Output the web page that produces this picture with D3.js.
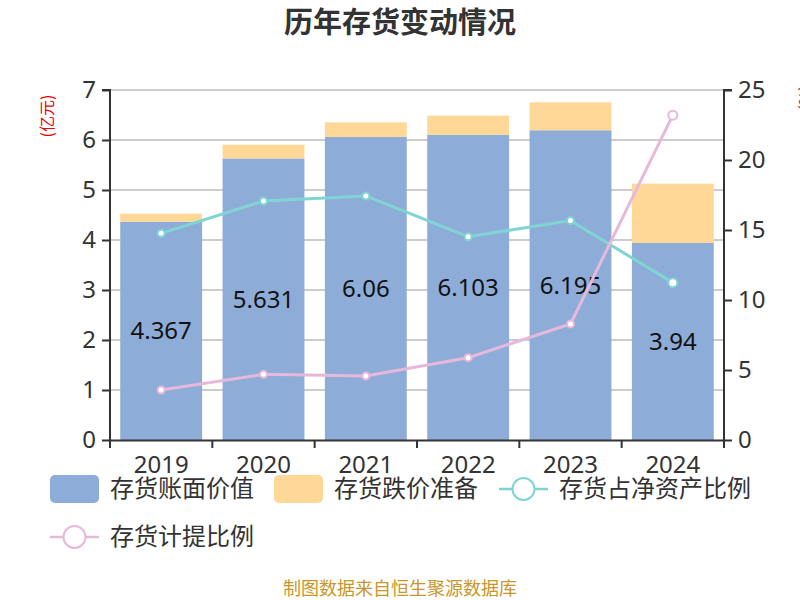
<!DOCTYPE html>
<html>
<head>
<meta charset="utf-8">
<script src="https://cdn.jsdelivr.net/npm/d3@7"></script>
<style>
  body { margin: 0; background: #fff; }
  svg { font-family: "Noto Sans CJK SC", "Noto Sans", sans-serif; }
</style>
</head>
<body>
<svg width="800" height="600"></svg>
<script>
// chart data
var years = ['2019', '2020', '2021', '2022', '2023', '2024'];
var bookValue = [4.367, 5.631, 6.06, 6.103, 6.195, 3.94];      // 存货账面价值 (亿元)
var reserve = [0.16, 0.275, 0.293, 0.384, 0.558, 1.187];        // 存货跌价准备 (亿元)
var netAssetRatio = [14.76, 17.07, 17.43, 14.52, 15.67, 11.24]; // 存货占净资产比例 (%)
var provisionRatio = [3.57, 4.69, 4.57, 5.88, 8.29, 23.2];      // 存货计提比例 (%)
var leftTicks = [0, 1, 2, 3, 4, 5, 6, 7];
var rightTicks = [0, 5, 10, 15, 20, 25];

var svg = d3.select('svg');
var blue = '#8eacd8', orange = '#ffd898', cyan = '#80d4d4', pink = '#e6b9da';

var padding = { t: 90, r: 76, b: 160, l: 110 };
var chartWidth = 800 - padding.l - padding.r;
var chartHeight = 600 - padding.t - padding.b;

var xScale = d3.scaleBand().domain(years).range([0, chartWidth]).paddingInner(0.2).paddingOuter(0.1);
var yLeft = d3.scaleLinear().domain([0, 7]).range([chartHeight, 0]);
var yRight = d3.scaleLinear().domain([0, 25]).range([chartHeight, 0]);

// title
svg.append('text')
    .attr('x', 400).attr('y', 33)
    .attr('text-anchor', 'middle')
    .style('font-size', '29px').style('font-weight', 'bold')
    .attr('fill', '#333')
    .text('历年存货变动情况');

var chartG = svg.append('g')
    .attr('transform', 'translate(' + padding.l + ',' + padding.t + ')');

// gridlines
chartG.selectAll('.grid')
    .data(leftTicks.slice(1))
    .enter().append('line')
    .attr('x1', 0).attr('x2', chartWidth)
    .attr('y1', d => yLeft(d)).attr('y2', d => yLeft(d))
    .attr('stroke', '#ccc').attr('stroke-width', 2);

// stacked bars
var bars = chartG.selectAll('.bar')
    .data(years)
    .enter().append('g');

bars.append('rect')
    .attr('x', d => xScale(d))
    .attr('width', xScale.bandwidth())
    .attr('y', (d, i) => yLeft(bookValue[i]))
    .attr('height', (d, i) => chartHeight - yLeft(bookValue[i]))
    .attr('fill', blue);

bars.append('rect')
    .attr('x', d => xScale(d))
    .attr('width', xScale.bandwidth())
    .attr('y', (d, i) => yLeft(bookValue[i] + reserve[i]))
    .attr('height', (d, i) => yLeft(bookValue[i]) - yLeft(bookValue[i] + reserve[i]))
    .attr('fill', orange);

// labels inside bars
bars.append('text')
    .attr('x', d => xScale(d) + xScale.bandwidth() / 2)
    .attr('y', (d, i) => (yLeft(bookValue[i]) + chartHeight) / 2)
    .attr('dy', '0.35em')
    .attr('text-anchor', 'middle')
    .style('font-size', '24px')
    .style('font-family', '"Noto Sans", sans-serif')
    .attr('fill', '#111')
    .text((d, i) => bookValue[i]);

// lines
function drawLine(values, color) {
    var line = d3.line()
        .x((d, i) => xScale(years[i]) + xScale.bandwidth() / 2)
        .y(d => yRight(d));
    chartG.append('path')
        .datum(values)
        .attr('d', line)
        .attr('fill', 'none')
        .attr('stroke', color)
        .attr('stroke-width', 3);
    chartG.selectAll(null)
        .data(values)
        .enter().append('circle')
        .attr('cx', (d, i) => xScale(years[i]) + xScale.bandwidth() / 2)
        .attr('cy', d => yRight(d))
        .attr('r', (d, i) => i === values.length - 1 ? 4.5 : 3.5)
        .attr('fill', '#fff')
        .attr('stroke', color)
        .attr('stroke-width', 2);
}
drawLine(netAssetRatio, cyan);
drawLine(provisionRatio, pink);

// axes
var leftAxis = chartG.append('g')
    .call(d3.axisLeft(yLeft).tickValues(leftTicks).tickFormat(d3.format('d')).tickSize(8).tickPadding(6));
var rightAxis = chartG.append('g')
    .attr('transform', 'translate(' + chartWidth + ',0)')
    .call(d3.axisRight(yRight).tickValues(rightTicks).tickSize(8).tickPadding(6));
var bottomAxis = chartG.append('g')
    .attr('transform', 'translate(0,' + chartHeight + ')')
    .call(d3.axisBottom(xScale).tickSize(0).tickPadding(16));

// tick marks between categories on the x axis
var edges = d3.range(years.length + 1).map(i => i * chartWidth / years.length);
bottomAxis.selectAll('.edge')
    .data(edges)
    .enter().append('line')
    .attr('x1', d => d).attr('x2', d => d)
    .attr('y1', 0).attr('y2', 8)
    .attr('stroke', '#333').attr('stroke-width', 2);

[leftAxis, rightAxis, bottomAxis].forEach(function(ax) {
    ax.select('.domain').attr('stroke', '#333').attr('stroke-width', 2);
    ax.selectAll('.tick line').attr('stroke', '#333').attr('stroke-width', 2);
    ax.selectAll('.tick text')
        .attr('fill', '#333')
        .style('font-size', '24px')
        .style('font-family', '"Noto Sans", sans-serif');
});
leftAxis.select('.domain').attr('d', 'M-8,0H0V' + (chartHeight + 8));
rightAxis.select('.domain').attr('d', 'M8,0H0V' + (chartHeight + 8));

// axis unit labels
svg.append('text')
    .attr('transform', 'translate(47,116) rotate(-90)')
    .attr('text-anchor', 'middle').attr('dy', '0.35em')
    .style('font-size', '16px').attr('fill', '#e00')
    .text('(亿元)');
svg.append('text')
    .attr('transform', 'translate(805,98) rotate(-90)')
    .attr('text-anchor', 'middle').attr('dy', '0.35em')
    .style('font-size', '16px').attr('fill', '#e00')
    .text('(%)');

// legend
var legendItems = [
    { name: '存货账面价值', color: blue, type: 'rect', x: 50, y: 489 },
    { name: '存货跌价准备', color: orange, type: 'rect', x: 274, y: 489 },
    { name: '存货占净资产比例', color: cyan, type: 'line', x: 499, y: 489 },
    { name: '存货计提比例', color: pink, type: 'line', x: 50, y: 537 }
];
var legend = svg.selectAll('.legend')
    .data(legendItems)
    .enter().append('g')
    .attr('transform', d => 'translate(' + d.x + ',' + d.y + ')');

legend.filter(d => d.type === 'rect').append('rect')
    .attr('x', 0).attr('y', -14).attr('width', 49).attr('height', 28)
    .attr('rx', 5)
    .attr('fill', d => d.color);
legend.filter(d => d.type === 'line').append('line')
    .attr('x1', 0).attr('x2', 49).attr('y1', 0).attr('y2', 0)
    .attr('stroke', d => d.color).attr('stroke-width', 2.5);
legend.filter(d => d.type === 'line').append('circle')
    .attr('cx', 24.5).attr('cy', 0).attr('r', 11)
    .attr('fill', '#fff')
    .attr('stroke', d => d.color).attr('stroke-width', 2);
legend.append('text')
    .attr('x', 60).attr('dy', '0.35em')
    .style('font-size', '24px').attr('fill', '#333')
    .text(d => d.name);

// footer
svg.append('text')
    .attr('x', 400).attr('y', 595)
    .attr('text-anchor', 'middle')
    .style('font-size', '18px').attr('fill', '#c8962a')
    .text('制图数据来自恒生聚源数据库');
</script>
</body>
</html>
